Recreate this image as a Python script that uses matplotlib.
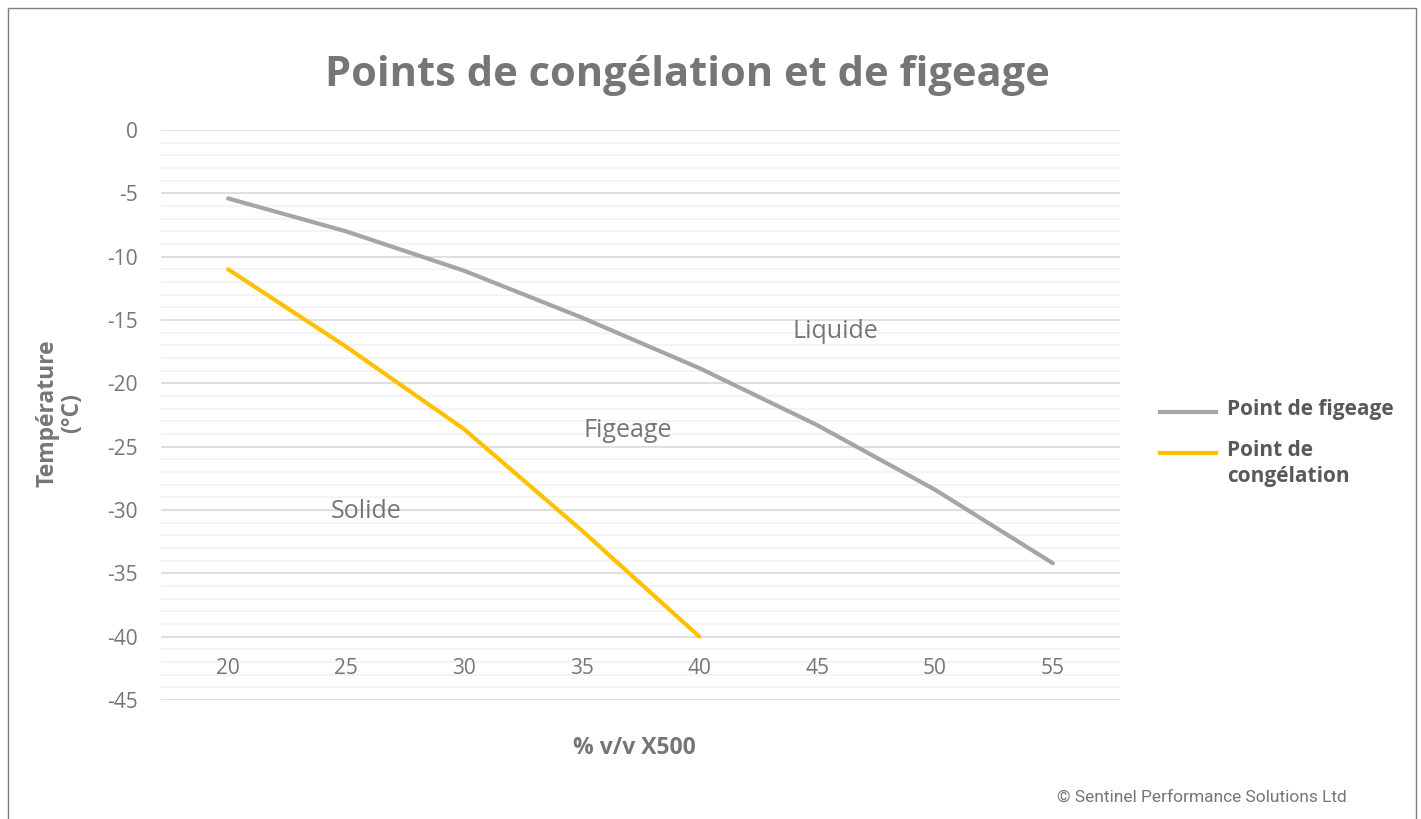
import matplotlib.pyplot as plt
from matplotlib.lines import Line2D
from matplotlib.patches import Rectangle

plt.rcParams['font.family'] = ['Open Sans', 'DejaVu Sans']
plt.rcParams['axes.unicode_minus'] = False

# data
concentrations = ['20', '25', '30', '35', '40', '45', '50', '55']
pour_point = [-5.4, -8.0, -11.1, -14.8, -18.8, -23.3, -28.4, -34.2]
freeze_point = [-11.0, -17.1, -23.6, -31.6, -40.0]
regions = ['Liquide', 'Figeage', 'Solide']
region_pos = [(5.15, -15.9), (3.39, -23.7), (1.17, -30.1)]

GREY_TXT = '#767676'

fig = plt.figure(figsize=(14.21, 8.19), dpi=100)
fig.patches.append(Rectangle((8 / 1421, -0.1), 1408 / 1421, 1.1 - 8 / 819,
                             transform=fig.transFigure, fill=False,
                             edgecolor='#7f7f7f', linewidth=1.0))
ax = fig.add_axes([161 / 1421, 1 - 700 / 819, (1120 - 161) / 1421, 570 / 819])

x = list(range(len(concentrations)))
ax.plot(x, pour_point, color='#A5A5A5', linewidth=3, solid_capstyle='round',
        label='Point de figeage', zorder=3)
ax.plot(x[:len(freeze_point)], freeze_point, color='#FFC000', linewidth=3,
        solid_capstyle='round', label='Point de\ncongélation', zorder=3)

ax.set_xlim(-0.57, 7.57)
ax.set_ylim(-45, 0)
ax.set_yticks(range(-45, 1, 5))
ax.set_yticks(range(-45, 1, 1), minor=True)
ax.grid(True, axis='y', which='major', color='#D9D9D9', linewidth=1.2)
ax.grid(True, axis='y', which='minor', color='#F2F2F2', linewidth=1.2)
ax.tick_params(axis='y', which='both', length=0, labelsize=15,
               labelcolor=GREY_TXT, pad=17)
ax.set_xticks([])
for s in ax.spines.values():
    s.set_visible(False)
ax.set_axisbelow(True)

# category labels sit inside the plot, as in the original
for xi, lab in zip(x, concentrations):
    ax.text(xi, -42.5, lab, ha='center', va='center', fontsize=15,
            color=GREY_TXT)

for lab, (px, py) in zip(regions, region_pos):
    ax.text(px, py, lab, ha='center', va='center', fontsize=18, color=GREY_TXT)

fig.text(687 / 1421, 1 - 75 / 819, 'Points de congélation et de figeage',
         ha='center', va='center', fontsize=30, fontweight='bold', color=GREY_TXT)
fig.text(60 / 1421, 1 - 413 / 819, 'Température\n(°C)', ha='center',
         va='center', rotation=90, fontsize=16.5, fontweight='bold',
         color=GREY_TXT, linespacing=1.0)
fig.text(634 / 1421, 1 - 748 / 819, '% v/v X500', ha='center', va='center',
         fontsize=16.5, fontweight='bold', color=GREY_TXT)
fig.text(1347 / 1421, 1 - 797 / 819, '© Sentinel Performance Solutions Ltd',
         ha='right', va='center', fontsize=12.5, color=GREY_TXT,
         family=['Roboto', 'DejaVu Sans'])

# legend drawn by hand to match the Excel layout
handles, labels = ax.get_legend_handles_labels()
leg_y = [412, 453]
for h, lab, ly in zip(handles, labels, leg_y):
    fig.add_artist(Line2D([1160 / 1421, 1216 / 1421],
                          [1 - ly / 819, 1 - ly / 819],
                          transform=fig.transFigure, color=h.get_color(),
                          linewidth=3))
    fig.text(1227 / 1421, 1 - (ly - 13) / 819, lab, ha='left', va='top',
             fontsize=15, fontweight='bold', color='#595959',
             linespacing=1.3)

fig.savefig('out.png', dpi=100, facecolor='white')
